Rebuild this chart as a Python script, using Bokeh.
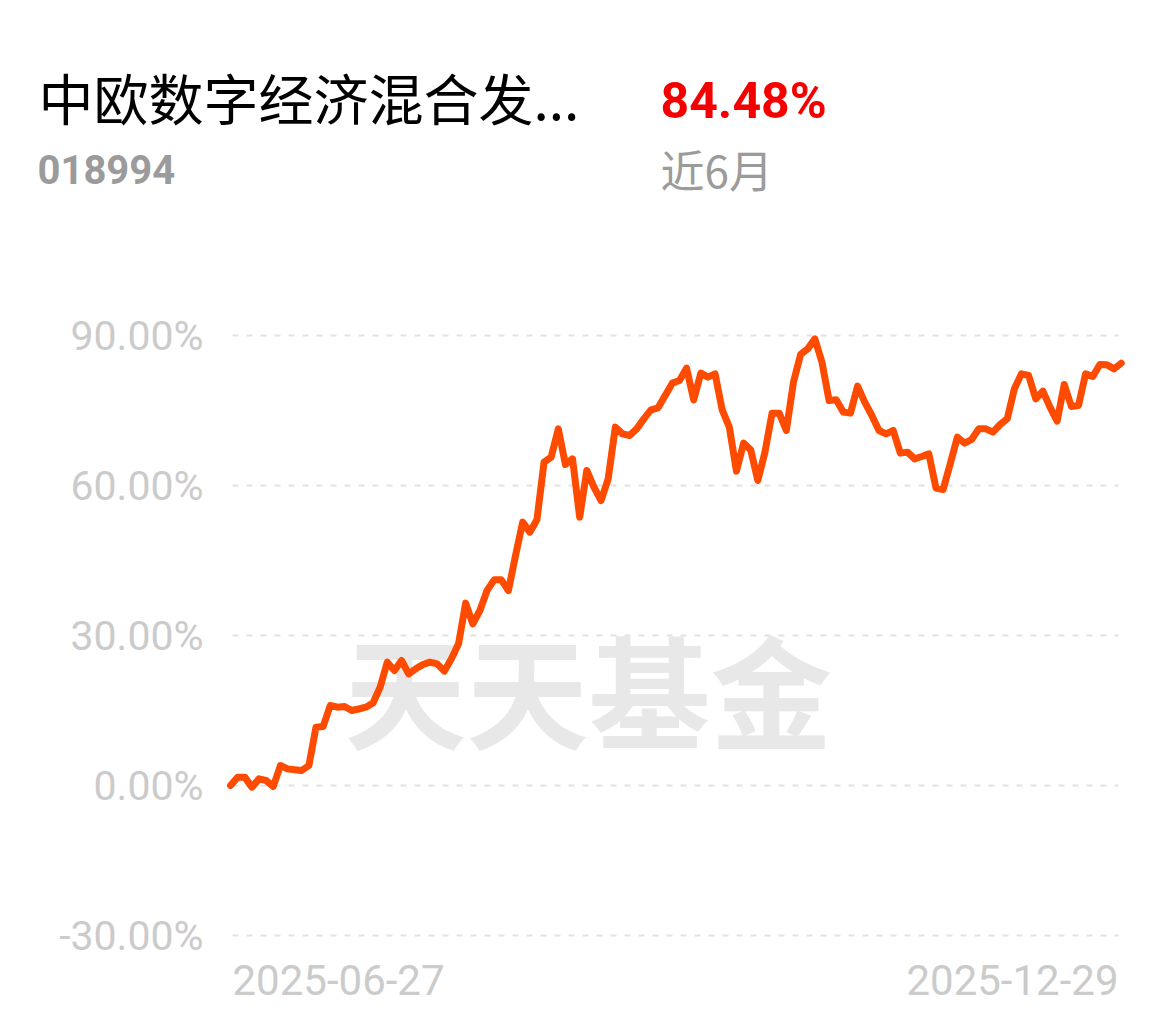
from bokeh.plotting import figure
from bokeh.models import Range1d
from bokeh.core.properties import value
from bokeh.embed import file_html
from bokeh.resources import INLINE

# ---------------- data ----------------
fund_name = "中欧数字经济混合发..."
fund_code = "018994"
period_return = "84.48%"
period_label = "近6月"
watermark = "天天基金"

start_date = "2025-06-27"
end_date = "2025-12-29"

returns = [
    0.0, 1.67, 1.67, -0.33, 1.33, 1.0, -0.2, 4.0, 3.33, 3.15,
    3.0, 4.0, 11.67, 11.8, 16.0, 15.67, 15.8, 15.0, 15.3, 15.67,
    16.5, 19.67, 24.67, 23.0, 25.0, 22.33, 23.33, 24.2, 24.67, 24.33,
    22.87, 25.33, 28.33, 36.47, 32.33, 35.0, 39.0, 41.13, 41.13, 39.0,
    46.0, 52.67, 50.67, 53.13, 64.67, 65.67, 71.33, 64.2, 65.33, 53.67,
    63.0, 59.67, 57.0, 61.33, 71.67, 70.33, 70.0, 71.33, 73.33, 75.13,
    75.53, 78.0, 80.47, 81.0, 83.47, 77.13, 82.47, 81.67, 82.33, 75.13,
    71.67, 62.87, 68.47, 67.13, 61.0, 66.67, 74.47, 74.47, 71.0, 80.67,
    86.2, 87.33, 89.33, 84.67, 77.0, 77.13, 74.67, 74.47, 79.87, 76.67,
    74.0, 71.0, 70.33, 71.0, 66.47, 66.67, 65.33, 65.8, 66.33, 59.47,
    59.2, 64.33, 69.67, 68.47, 69.2, 71.33, 71.33, 70.67, 72.2, 73.33,
    79.33, 82.33, 82.0, 77.33, 78.87, 75.67, 72.87, 80.2, 75.8, 76.0,
    82.33, 81.8, 84.2, 84.13, 83.33, 84.48,
]
days = list(range(len(returns)))

y_ticks = [-30, 0, 30, 60, 90]
y_tick_labels = ["-30.00%", "0.00%", "30.00%", "60.00%", "90.00%"]

# ---------------- layout (pixel <-> data) ----------------
W, H = 1159, 1006
X_PIX0, X_STEP = 230.0, 7.126   # pixel of day 0, pixels per day
Y_PIX0, Y_STEP = 785.0, 5.0     # pixel of 0 %, pixels per 1 %


def px(pix_x):
    return (pix_x - X_PIX0) / X_STEP


def py(pix_y):
    return (Y_PIX0 - pix_y) / Y_STEP


p = figure(width=W, height=H, output_backend="svg", toolbar_location=None,
           x_range=Range1d(px(0), px(W)), y_range=Range1d(py(H), py(0)),
           min_border=0, x_axis_location=None, y_axis_location=None)
p.outline_line_color = None
p.grid.visible = False
p.background_fill_color = "white"
p.border_fill_color = "white"

# grid lines
n = len(y_ticks)
p.segment(x0=[px(232)] * n, x1=[px(1118)] * n, y0=y_ticks, y1=y_ticks,
          line_color="#e2e2e2", line_width=2, line_dash="6 8")

# y tick labels
p.text(x=[px(203)] * n, y=y_ticks, text=y_tick_labels, text_align="right",
       text_baseline="middle", text_font=value("Roboto"),
       text_font_size="41px", text_color="#cbcbcb")

# x labels
p.text(x=[px(232), px(1118)], y=[py(979)] * 2, text=[start_date, end_date],
       text_align=["left", "right"], text_baseline="middle",
       text_font=value("Roboto"), text_font_size="42px", text_color="#cbcbcb")

# watermark
p.text(x=[px(588)], y=[py(686)], text=[watermark], text_align="center",
       text_baseline="middle", text_font=value("Noto Sans CJK SC"),
       text_font_style="bold", text_font_size="122px", text_color="#e8e8e8")

# series
p.line(x=days, y=returns, line_color="#ff4b00", line_width=7,
       line_join="round", line_cap="round")

# header
p.text(x=[px(38)], y=[py(95)], text=[fund_name], text_align="left",
       text_baseline="middle", text_font=value("Noto Sans CJK SC"),
       text_font_size="55px", text_color="#000000")
p.text(x=[px(37)], y=[py(169)], text=[fund_code], text_align="left",
       text_baseline="middle", text_font=value("Roboto"), text_font_style="bold",
       text_font_size="40px", text_color="#9b9b9b")
p.text(x=[px(660)], y=[py(100)], text=[period_return], text_align="left",
       text_baseline="middle", text_font=value("Roboto"), text_font_style="bold",
       text_font_size="50px", text_color="#f50000")
p.text(x=[px(660)], y=[py(168)], text=[period_label], text_align="left",
       text_baseline="middle", text_font=value("Noto Sans CJK SC"),
       text_font_size="44px", text_color="#9b9b9b")

open("out.html", "w").write(file_html(p, INLINE))
